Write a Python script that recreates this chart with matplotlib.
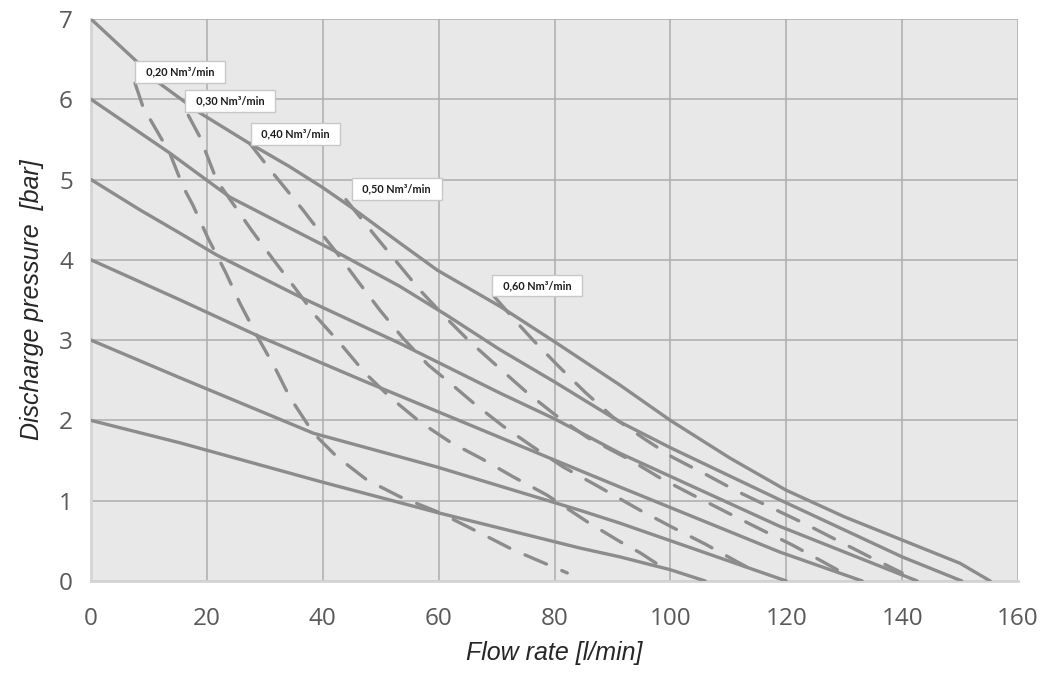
import matplotlib
matplotlib.use("Agg")
import matplotlib.pyplot as plt

# solid curves: constant air pressure 7..2 bar  (flow l/min, pressure bar)
p7_x = [0, 7.6, 11.6, 18.8, 26.9, 34.3, 40, 45.2, 53.3, 59.8, 70.6, 80, 91.3, 100, 110.3, 120, 130, 140, 150, 155.2]
p7_y = [7, 6.49, 6.21, 5.83, 5.47, 5.16, 4.9, 4.64, 4.21, 3.87, 3.42, 2.98, 2.44, 2.0, 1.53, 1.13, 0.8, 0.51, 0.22, 0]
p6_x = [0, 13.6, 24, 36.1, 41.8, 53.3, 61.4, 70.6, 80, 91.3, 100, 118.9, 140, 150.3]
p6_y = [6, 5.33, 4.78, 4.33, 4.12, 3.67, 3.31, 2.88, 2.48, 1.98, 1.66, 1.01, 0.3, 0]
p5_x = [0, 8.5, 15.4, 21.7, 36.6, 53.3, 70.6, 80, 91.3, 118.9, 142.6]
p5_y = [5, 4.62, 4.33, 4.06, 3.52, 2.96, 2.34, 2.02, 1.59, 0.68, 0]
p4_x = [0, 15.4, 28.6, 46.8, 79.2, 91.3, 118.9, 133.1]
p4_y = [4, 3.5, 3.06, 2.5, 1.53, 1.17, 0.36, 0]
p3_x = [0, 15.4, 38.4, 59.7, 84.4, 91.3, 120]
p3_y = [3, 2.53, 1.84, 1.42, 0.88, 0.72, 0]
p2_x = [0, 15.4, 40, 59.9, 84.4, 91.3, 100, 106]
p2_y = [2, 1.72, 1.23, 0.85, 0.41, 0.3, 0.14, 0]

# dashed curves: constant air consumption
q20_x = [7.6, 9, 13.6, 15.9, 17.6, 20.2, 23.2, 25.7, 28.6, 31.8, 34.3, 38.4, 42.4, 47.6, 53.3, 60.2, 67.1, 72.8, 82.2]
q20_y = [6.2, 5.9, 5.33, 4.91, 4.68, 4.27, 3.85, 3.46, 3.06, 2.65, 2.29, 1.84, 1.55, 1.26, 1.05, 0.85, 0.6, 0.39, 0.1]
q30_x = [16.8, 18.8, 21.7, 27.7, 31.5, 35.2, 38.9, 43, 47.3, 51.6, 56.8, 62, 67.5, 72.8, 78.7, 85.8, 91.3, 94.8, 99.9]
q30_y = [5.8, 5.53, 4.99, 4.37, 4.0, 3.65, 3.29, 2.96, 2.59, 2.29, 1.98, 1.73, 1.52, 1.3, 1.07, 0.73, 0.49, 0.35, 0.11]
q40_x = [27.4, 31.4, 36.6, 38.3, 42.4, 46.1, 49.9, 53.9, 58.2, 61.4, 66.3, 71.1, 76.3, 81.5, 87, 94.8, 100.3, 106, 111.5, 115.1]
q40_y = [5.45, 5.08, 4.62, 4.46, 4.09, 3.73, 3.37, 3.02, 2.69, 2.5, 2.2, 1.93, 1.67, 1.42, 1.2, 0.88, 0.67, 0.46, 0.24, 0.1]
q50_x = [44, 48.7, 52.8, 56.8, 61.1, 65.4, 70.2, 75.2, 80.1, 85.6, 93, 98.3, 103.9, 109.6, 115.1, 121, 126.3, 129.8]
q50_y = [4.75, 4.33, 3.97, 3.62, 3.29, 2.98, 2.67, 2.35, 2.07, 1.79, 1.51, 1.28, 1.07, 0.86, 0.66, 0.45, 0.24, 0.1]
q60_x = [69.5, 73.5, 76.3, 80.9, 85.3, 90.1, 95.3, 100.4, 106.3, 111.7, 117.5, 123.3, 128.7, 134.4, 140]
q60_y = [3.55, 3.22, 3.0, 2.66, 2.35, 2.04, 1.78, 1.54, 1.32, 1.11, 0.91, 0.71, 0.51, 0.3, 0.1]

label_text = ["0,20 Nm³/min", "0,30 Nm³/min", "0,40 Nm³/min", "0,50 Nm³/min", "0,60 Nm³/min"]
label_x = [15.4, 24.0, 35.3, 52.8, 77.0]
label_y = [6.34, 5.98, 5.57, 4.88, 3.68]

solid = [(p7_x, p7_y), (p6_x, p6_y), (p5_x, p5_y), (p4_x, p4_y), (p3_x, p3_y), (p2_x, p2_y)]
dashed = [(q20_x, q20_y), (q30_x, q30_y), (q40_x, q40_y), (q50_x, q50_y), (q60_x, q60_y)]

line_col = '#8c8c8c'

fig = plt.figure(figsize=(10.42, 6.75), dpi=100)
ax = fig.add_axes([0.0873, 0.1393, 0.8897, 0.8326])
ax.set_facecolor('#e8e8e8')

for xs, ys in solid:
    ax.plot(xs, ys, color=line_col, lw=2.4, solid_joinstyle='round', solid_capstyle='round', zorder=3)
for xs, ys in dashed:
    ax.plot(xs, ys, color=line_col, lw=2.4, dashes=(7, 5), dash_capstyle='round', zorder=3)

for t, x, y in zip(label_text, label_x, label_y):
    ax.text(x, y, '  ' + t + '  ', ha='center', va='center', fontsize=7.8,
            fontweight='bold', family='Lato', color='#1a1a1a', zorder=5,
            bbox=dict(boxstyle='square,pad=0.5', fc='white', ec='#c8c8c8', lw=1))

ax.set_xlim(0, 160)
ax.set_ylim(0, 7)
ax.set_xticks(range(0, 161, 20))
ax.set_yticks(range(0, 8))
ax.grid(True, color='#acacac', lw=1.1, zorder=1)
ax.set_axisbelow(True)
ax.tick_params(length=0, labelsize=17.5, labelcolor='#595959')
ax.tick_params(axis='x', pad=19)
ax.tick_params(axis='y', pad=13)
for lab in ax.get_xticklabels() + ax.get_yticklabels():
    lab.set_family('Open Sans')

for s in ['top', 'right']:
    ax.spines[s].set_visible(False)
for s in ['left', 'bottom']:
    ax.spines[s].set_color('#d4d4d4')
    ax.spines[s].set_linewidth(2)

ax.set_xlabel('Flow rate [l/min]', fontsize=18, style='italic', family='Liberation Sans', color='#262626', labelpad=7)
ax.set_ylabel('Discharge pressure  [bar]', fontsize=18, style='italic', family='Liberation Sans', color='#262626', labelpad=11)

fig.savefig('out.png', dpi=100)
